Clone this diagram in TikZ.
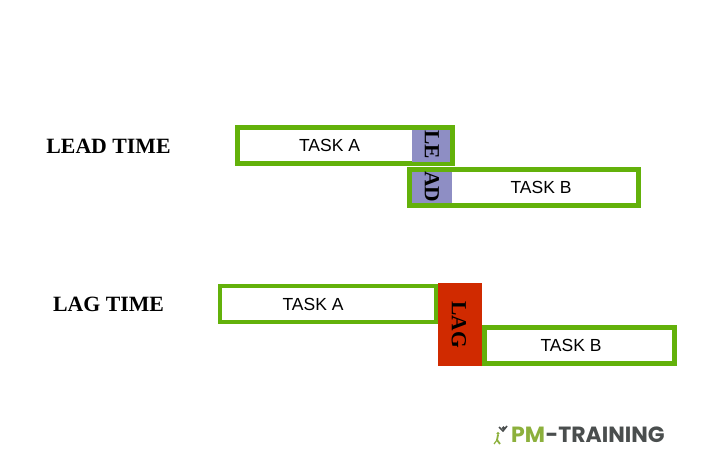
\documentclass[tikz,border=0pt]{standalone}
\usepackage{fontspec}
\setmainfont{Liberation Serif}
\setsansfont{Liberation Sans}
\newfontfamily\logofont{Poppins}
\definecolor{mygreen}{RGB}{99,177,10}
\definecolor{mypurple}{RGB}{142,142,196}
\definecolor{myred}{RGB}{208,42,0}
\definecolor{mygray}{RGB}{74,78,78}
\definecolor{myolive}{RGB}{140,176,60}
\tikzset{
    taskbox/.style={draw=mygreen, line width=4.4pt, fill=white, inner sep=0pt, minimum height=36pt, font=\sffamily\fontsize{17.5}{19}\selectfont},
    tasktext/.style={anchor=center, font=\sffamily\fontsize{17.5}{19}\selectfont},
    gapbox/.style={inner sep=0pt, font=\rmfamily\bfseries\fontsize{21.5}{23}\selectfont},
    rowlabel/.style={anchor=center, font=\rmfamily\bfseries\fontsize{21.8}{24}\selectfont},
}

\begin{document}
\begin{tikzpicture}[x=1pt, y=-1pt]
    \useasboundingbox (0, 0) rectangle (714, 470);
    \fill[white] (0, 0) rectangle (714, 470);
    \begin{scope}
        \node[rowlabel] (leadtitle) at (108.5, 146.5) {LEAD TIME};
        \node[taskbox, minimum width=215pt] (leadA) at (345, 145.5) {};
        \node[tasktext] (leadAtext) at (329.5, 145.5) {TASK A};
        \node[taskbox, minimum width=229pt] (leadB) at (524, 187.5) {};
        \node[tasktext] (leadBtext) at (541, 187.5) {TASK B};
        \node[gapbox, fill=mypurple, minimum width=38pt, minimum height=32pt] (leadtop) at (431, 146) {};
        \node[gapbox, rotate=-90] (leadtoptext) at (432, 145) {LE};
        \node[gapbox, fill=mypurple, minimum width=40pt, minimum height=31pt] (leadbot) at (432, 187.5) {};
        \node[gapbox, rotate=-90] (leadbottext) at (432, 187) {AD};
    \end{scope}
    \begin{scope}
        \node[rowlabel] (lagtitle) at (108.5, 304.5) {LAG TIME};
        \node[taskbox, minimum width=215.5pt] (lagA) at (328, 304) {};
        \node[tasktext] (lagAtext) at (313, 304) {TASK A};
        \node[gapbox, fill=myred, minimum width=44pt, minimum height=83pt] (lagbar) at (460, 324.5) {};
        \node[gapbox, rotate=-90] (lagbartext) at (459, 324.5) {LAG};
        \node[taskbox, minimum width=190pt] (lagB) at (579.5, 345.5) {};
        \node[tasktext] (lagBtext) at (571, 345.5) {TASK B};
    \end{scope}
    \begin{scope}
        % logo
        \node[anchor=west, inner sep=0pt, text=myolive, font=\logofont\bfseries\fontsize{22}{26}\selectfont] (logoPM) at (511, 434.5) {PM};
        \node[anchor=west, inner sep=0pt, text=mygray, font=\logofont\bfseries\fontsize{22}{26}\selectfont] (logoname) at (logoPM.east) {-TRAINING};
        \fill[mygray] (503.5, 428) circle (1.8);
        \draw[mygray, line width=1.6pt] (507, 426) -- (503, 431) -- (499, 427);
        \fill[myolive] (498, 433.5) circle (1.6);
        \draw[myolive, line width=1.8pt] (498, 435) -- (497, 440) -- (500, 444);
        \draw[myolive, line width=1.2pt] (497, 440) -- (494, 444);
    \end{scope}
\end{tikzpicture}
\end{document}
